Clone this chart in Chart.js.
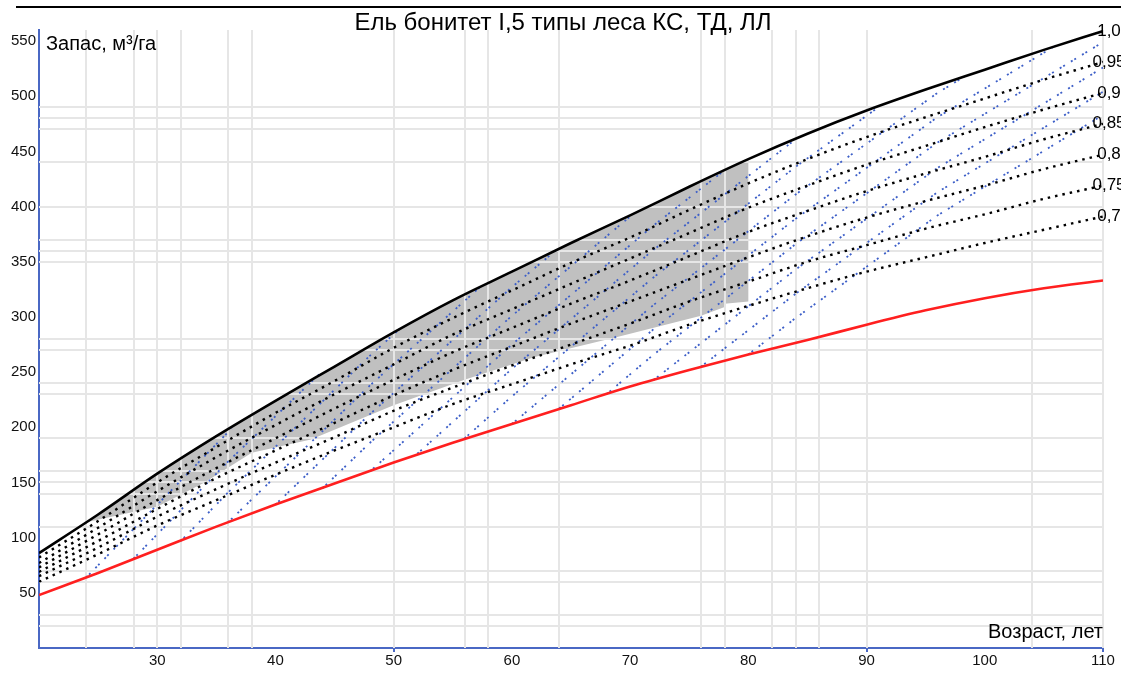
<!DOCTYPE html>
<html lang="ru">
<head>
<meta charset="utf-8">
<title>Ель бонитет I,5</title>
<script src="https://cdn.jsdelivr.net/npm/chart.js@4.4.1/dist/chart.umd.min.js"></script>
<style>
  html, body { margin: 0; padding: 0; background: #fff; }
  canvas { display: block; }
</style>
</head>
<body>
<canvas id="chart" width="1121" height="673"></canvas>
<script>
// ages (years) and growing stock (m3/ha) per relative density
const ages = [20, 25, 30, 35, 40, 45, 50, 55, 60, 65, 70, 75, 80, 85, 90, 95, 100, 105, 110];
const stock100 = [86, 121, 158, 192, 224, 255, 286, 315, 341, 367, 392, 418, 443, 466, 487, 506, 524, 542, 559];
const stock095 = [82, 115, 150, 182, 213, 242, 272, 299, 324, 349, 372, 397, 421, 443, 463, 481, 498, 515, 531];
const stock090 = [77, 109, 142, 173, 202, 230, 257, 284, 307, 330, 353, 376, 399, 419, 438, 455, 472, 488, 503];
const stock085 = [73, 103, 134, 163, 190, 217, 243, 268, 290, 312, 333, 355, 377, 396, 414, 430, 445, 461, 475];
const stock080 = [69, 97, 126, 154, 179, 204, 229, 252, 273, 294, 314, 334, 354, 373, 390, 405, 419, 434, 447];
const stock075 = [65, 91, 119, 144, 168, 191, 215, 236, 256, 275, 294, 314, 332, 350, 365, 380, 393, 407, 419];
const stock070 = [60, 85, 111, 134, 157, 179, 200, 221, 239, 257, 274, 293, 310, 326, 341, 354, 367, 379, 391];
// lower limit of stock
const stockMin = [48, 68, 89, 110, 130, 149, 168, 186, 203, 220, 237, 252, 266, 279, 293, 306, 317, 326, 333];

const densityLabels = ['1,0', '0,95', '0,9', '0,85', '0,8', '0,75', '0,7'];
const densityStocks = [stock100, stock095, stock090, stock085, stock080, stock075, stock070];

// thinning zone outline: along the top curve, then back along the lower edge
const zoneTop = [[24, 114], [25, 121], [30, 158], [35, 192], [40, 224], [45, 255], [50, 286],
  [55, 315], [60, 341], [65, 367], [70, 392], [75, 418], [80, 443]];
const zoneBottom = [[80, 314], [78, 312], [78, 309], [76, 301], [69, 282], [62, 264], [56, 243],
  [50, 220], [43, 189], [38, 177], [34, 150], [30, 128], [24, 114]];

// growth lines after thinning, starting from the lower limit every 4 years
const growthLines = [
  [[24, 64], [36.3, 199]],
  [[28, 81], [36, 169], [43.7, 248]],
  [[32, 97], [36, 141], [48, 265], [50.5, 289]],
  [[36, 114], [48, 238], [57.3, 327]],
  [[40, 130], [48, 212], [60, 327], [63.8, 361]],
  [[44, 145], [48, 186], [60, 301], [70, 391]],
  [[48, 160], [60, 275], [72, 383], [78, 433]],
  [[52, 176], [60, 253], [72, 361], [84, 461]],
  [[56, 190], [60, 228], [72, 336], [84, 436], [91, 490]],
  [[60, 203], [72, 311], [84, 411], [96, 503], [98, 516]],
  [[64, 217], [72, 289], [84, 389], [96, 481], [106, 546]],
  [[68, 230], [72, 266], [84, 366], [96, 458], [110, 549]],
  [[72, 243], [84, 343], [96, 435], [110, 526]],
  [[76, 255], [84, 321], [96, 413], [110, 504]],
  [[80, 266], [84, 299], [96, 392], [110, 483]]
];

// irregular grid positions and labelled ticks
const gridAges = [24, 28, 30, 32, 36, 38, 50, 56, 58, 64, 76, 78, 82, 84, 86, 90, 104, 110];
const gridStocks = [20, 30, 60, 70, 110, 140, 150, 160, 190, 230, 240, 270, 280, 350, 360, 370, 400, 440, 470, 480, 490];
const ageLabels = [30, 40, 50, 60, 70, 80, 90, 100, 110];
const stockLabels = [50, 100, 150, 200, 250, 300, 350, 400, 450, 500, 550];
const ageMarks = [50, 90, 110];

const FONT = '"Liberation Sans", Arial, sans-serif';
const GRID = '#e6e6e6';
const AXIS = '#4a68c4';

const pts = arr => arr.map(([x, y]) => ({ x, y }));
const series = vals => ages.map((a, i) => ({ x: a, y: vals[i] }));
const merged = (a, b) => Array.from(new Set([...a, ...b])).sort((p, q) => p - q);

const datasets = [];
datasets.push({
  label: 'zone',
  data: pts([...zoneTop, ...zoneBottom]),
  fill: 'shape',
  backgroundColor: '#c0c0c0',
  borderWidth: 0,
  order: 10
});
growthLines.forEach((line, i) => datasets.push({
  label: 'growth' + i,
  data: pts(line),
  borderColor: '#3d5fc8',
  borderWidth: 1.8,
  borderDash: [2, 2, 2, 7],
  fill: false,
  order: 2
}));
densityStocks.forEach((vals, i) => datasets.push({
  label: densityLabels[i],
  data: series(vals),
  borderColor: '#000',
  borderWidth: i === 0 ? 2.6 : 2.4,
  borderDash: i === 0 ? [] : [2.5, 5],
  cubicInterpolationMode: 'monotone',
  fill: false,
  order: 1
}));
datasets.push({
  label: 'min',
  data: series(stockMin),
  borderColor: '#ff1f1f',
  borderWidth: 2.6,
  cubicInterpolationMode: 'monotone',
  fill: false,
  order: 0
});

function alignPx(p) { return Math.round(p - 1) + 1; }

const decor = {
  id: 'decor',
  afterDatasetDraw(chart, args) {
    if (chart.data.datasets[args.index].label !== 'zone') return;
    // keep the grid visible over the thinning zone
    const { ctx, chartArea: a, scales: { x, y } } = chart;
    ctx.save();
    ctx.strokeStyle = GRID;
    ctx.lineWidth = 2;
    ctx.beginPath();
    gridAges.forEach(v => {
      const px = alignPx(x.getPixelForValue(v));
      ctx.moveTo(px, a.top); ctx.lineTo(px, a.bottom);
    });
    gridStocks.forEach(v => {
      const py = alignPx(y.getPixelForValue(v));
      ctx.moveTo(a.left, py); ctx.lineTo(a.right, py);
    });
    ctx.stroke();
    ctx.restore();
  },
  afterDraw(chart) {
    const { ctx, scales: { x, y } } = chart;
    ctx.save();
    ctx.strokeStyle = '#000';
    ctx.lineWidth = 2;
    ctx.beginPath();
    ctx.moveTo(16, 7); ctx.lineTo(chart.width, 7);
    ctx.stroke();

    ctx.fillStyle = '#000';
    ctx.textBaseline = 'middle';
    ctx.textAlign = 'center';
    ctx.font = '24px ' + FONT;
    ctx.fillText('Ель бонитет I,5 типы леса КС, ТД, ЛЛ', 563, 23);

    ctx.textAlign = 'left';
    ctx.font = '20px ' + FONT;
    ctx.fillText('Запас, м³/га', 46, 44);
    ctx.textAlign = 'right';
    ctx.fillText('Возраст, лет', 1103, 632);

    // density labels at the curve ends
    ctx.textAlign = 'center';
    ctx.font = '17px ' + FONT;
    const xEnd = x.getPixelForValue(ages[ages.length - 1]) + 6;
    densityStocks.forEach((vals, i) => {
      ctx.fillText(densityLabels[i], xEnd, y.getPixelForValue(vals[vals.length - 1]));
    });
    ctx.restore();
  }
};

new Chart(document.getElementById('chart'), {
  type: 'line',
  data: { datasets },
  options: {
    responsive: false,
    animation: false,
    layout: { padding: { top: 30, right: 18, left: 0, bottom: 0 } },
    elements: { point: { radius: 0 }, line: { borderCapStyle: 'butt' } },
    plugins: { legend: { display: false }, tooltip: { enabled: false } },
    scales: {
      x: {
        type: 'linear',
        min: 20,
        max: 110,
        afterBuildTicks: s => { s.ticks = merged(gridAges, ageLabels).map(v => ({ value: v })); },
        afterFit: s => { s.height = 25; },
        border: { color: AXIS, width: 2 },
        grid: {
          color: c => gridAges.includes(c.tick.value) ? GRID : 'rgba(0,0,0,0)',
          lineWidth: 2,
          drawTicks: true,
          tickLength: 4,
          tickColor: c => ageMarks.includes(c.tick.value) ? AXIS : 'rgba(0,0,0,0)',
          tickWidth: 2
        },
        ticks: {
          autoSkip: false,
          maxRotation: 0,
          padding: 0,
          color: '#111',
          font: { family: FONT, size: 15 },
          callback: v => ageLabels.includes(v) ? String(v) : ''
        }
      },
      y: {
        min: 0,
        max: 560,
        afterBuildTicks: s => { s.ticks = merged(gridStocks, stockLabels).map(v => ({ value: v })); },
        afterFit: s => { s.width = 39; },
        border: { color: AXIS, width: 2 },
        grid: {
          color: c => gridStocks.includes(c.tick.value) ? GRID : 'rgba(0,0,0,0)',
          lineWidth: 2,
          drawTicks: false
        },
        ticks: {
          autoSkip: false,
          padding: 3,
          color: '#111',
          font: { family: FONT, size: 15 },
          callback: v => stockLabels.includes(v) ? String(v) : ''
        }
      }
    }
  },
  plugins: [decor]
});
</script>
</body>
</html>
